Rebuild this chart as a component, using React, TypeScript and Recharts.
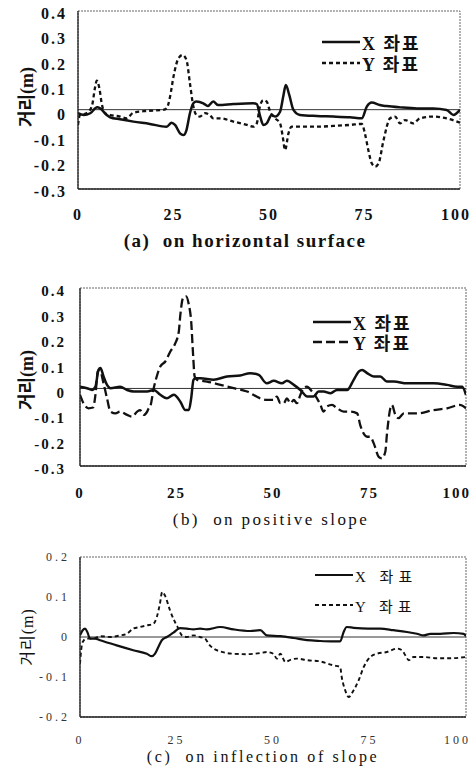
import React from 'react';
import { LineChart, Line, XAxis, YAxis, ReferenceLine, ReferenceArea, Legend } from 'recharts';

// ---------- labels ----------
const xTicks = [0, 25, 50, 75, 100];
const yTicksAB = [-0.3, -0.2, -0.1, 0, 0.1, 0.2, 0.3, 0.4];
const yTicksC = [-0.2, -0.1, 0, 0.1, 0.2];
const seriesNames = ['X 좌표', 'Y 좌표'];
const titles = ['(a)  on horizontal surface', '(b)  on positive slope', '(c)  on inflection of slope'];
const yLabel = '거리(m)';

// ---------- (a) horizontal surface ----------
const horizXPos = [0, 1.5, 3.2, 5, 5.8, 7.5, 8.4, 11, 14.5, 18.8, 23.2, 24.5, 25.4, 26.7, 27.6, 28.4, 29.3, 30.2, 31, 32.8, 34, 35.4, 36.7, 40.7, 45.9, 46.8, 47.6, 48.5, 49.4, 50.7, 51.6, 52.9, 53.8, 54.4, 55.3, 56.4, 58.1, 62.5, 66.8, 71.2, 74.3, 75.6, 76.9, 79, 80.8, 84.3, 88.7, 93, 96.5, 98.3, 99.1, 100];
const horizXVal = [-0.002, -0.009, -0.002, 0.021, 0.017, -0.009, -0.018, -0.026, -0.035, -0.044, -0.055, -0.039, -0.048, -0.081, -0.088, -0.068, -0.002, 0.037, 0.044, 0.037, 0.026, 0.044, 0.03, 0.034, 0.037, 0.034, -0.009, -0.048, -0.042, -0.009, -0.015, 0.004, 0.07, 0.109, 0.07, 0.011, -0.009, -0.013, -0.015, -0.018, -0.022, 0.024, 0.04, 0.03, 0.026, 0.021, 0.017, 0.017, 0.011, -0.009, -0.002, 0.011];
const horizYPos = [0, 0.5, 2.2, 3.6, 4.5, 4.9, 5.6, 6.2, 7.1, 8.4, 11, 12.7, 14.5, 18, 22.3, 23.2, 24.1, 25, 26.3, 27.4, 28.4, 29.3, 30.2, 31, 31.9, 33.2, 34.5, 35.4, 37.2, 40.7, 44.2, 45.9, 46.8, 47.6, 48.5, 49.4, 50.3, 51.6, 52.9, 53.6, 54.2, 55.1, 55.9, 58.1, 62.5, 66.8, 71.2, 74.3, 75.1, 76, 76.9, 77.8, 78.7, 80, 81.7, 83, 84.3, 85.6, 87.8, 89.5, 93, 96.5, 100];
const horizYVal = [-0.048, -0.009, -0.002, 0.024, 0.102, 0.126, 0.096, 0.037, -0.002, -0.009, -0.015, -0.022, 0.0, 0.007, 0.011, 0.017, 0.063, 0.142, 0.214, 0.227, 0.207, 0.116, 0.024, -0.009, -0.015, -0.002, -0.009, -0.022, -0.022, -0.035, -0.048, -0.055, -0.042, 0.024, 0.05, 0.044, 0.004, -0.022, -0.042, -0.094, -0.147, -0.081, -0.055, -0.055, -0.055, -0.052, -0.048, -0.044, -0.081, -0.147, -0.199, -0.212, -0.199, -0.107, -0.022, -0.015, -0.042, -0.029, -0.042, -0.022, -0.015, -0.022, -0.039];

// ---------- (b) positive slope ----------
const slopeXPos = [0, 1.8, 3.1, 4, 4.8, 5.3, 6.1, 7, 7.9, 10.4, 12.2, 13.9, 17.4, 19.1, 20.8, 22.5, 24.3, 26, 27.3, 28.2, 28.8, 29.4, 29.9, 31.2, 34.6, 38.1, 41.5, 44.1, 46.3, 48.4, 50.2, 52.3, 53.6, 55.4, 57.1, 58.9, 60.5, 61.8, 63.1, 64.9, 66.6, 69.2, 70.9, 72.2, 73.1, 74.4, 76.1, 77.8, 79.5, 81.3, 84.7, 88.2, 91.6, 95.1, 97.7, 99, 100];
const slopeXVal = [0.012, 0.006, -0.001, 0.012, 0.078, 0.085, 0.052, 0.019, 0.006, 0.012, -0.001, -0.007, -0.007, -0.001, -0.02, -0.034, -0.02, -0.047, -0.08, -0.08, -0.034, 0.039, 0.045, 0.045, 0.039, 0.052, 0.056, 0.065, 0.058, 0.025, 0.035, 0.025, 0.035, 0.019, -0.001, -0.027, -0.027, -0.007, -0.007, -0.014, -0.001, -0.001, 0.039, 0.071, 0.078, 0.065, 0.052, 0.052, 0.032, 0.032, 0.025, 0.025, 0.025, 0.019, 0.012, 0.012, -0.02];
const slopeYPos = [0, 0.9, 2.2, 3.4, 4, 4.6, 5.1, 6.1, 7, 7.9, 9.2, 10.4, 12.2, 13.5, 14.8, 15.6, 16.5, 17.4, 17.8, 18.2, 19.1, 20, 20.8, 22.1, 23.4, 24.7, 25.6, 26, 26.7, 27.5, 28.2, 28.8, 29.3, 29.7, 30.3, 32.9, 36.4, 39.8, 43.3, 46.7, 48.4, 50.2, 51, 51.9, 52.8, 53.6, 54.5, 55.4, 56.2, 57.1, 57.9, 58.8, 60.1, 61.4, 62.3, 63.1, 64, 65.3, 66.6, 68.3, 70, 71.8, 72.6, 74.4, 75.2, 76.1, 77.4, 78.2, 79.1, 79.5, 80.4, 80.8, 81.7, 82.5, 83.9, 87.3, 91.6, 95.1, 98.4, 100];
const slopeYVal = [-0.02, -0.053, -0.073, -0.07, -0.02, 0.071, 0.078, 0.025, -0.034, -0.086, -0.093, -0.086, -0.099, -0.106, -0.086, -0.08, -0.099, -0.086, -0.073, -0.066, 0.006, 0.058, 0.091, 0.111, 0.15, 0.183, 0.229, 0.295, 0.361, 0.367, 0.334, 0.269, 0.137, 0.052, 0.039, 0.032, 0.019, 0.006, -0.007, -0.034, -0.04, -0.04, -0.027, -0.053, -0.053, -0.034, -0.053, -0.04, -0.053, -0.02, 0.006, 0.012, -0.007, -0.034, -0.06, -0.086, -0.066, -0.06, -0.073, -0.086, -0.086, -0.093, -0.139, -0.185, -0.185, -0.211, -0.264, -0.27, -0.244, -0.178, -0.073, -0.06, -0.099, -0.112, -0.093, -0.093, -0.08, -0.073, -0.06, -0.073];

// ---------- (c) inflection of slope ----------
const inflXPos = [0, 0.7, 1.3, 1.9, 2.6, 3.9, 5.2, 9.5, 13.8, 17.3, 18.6, 19.4, 20.3, 21.2, 22.5, 24.2, 25.9, 27.7, 29.4, 31.1, 32.8, 36.3, 39.8, 44.1, 46.7, 48.4, 51.9, 55.3, 58.8, 62.2, 65.7, 67.4, 68.3, 69.1, 70.9, 74.6, 77.8, 81.2, 84.7, 87.3, 89, 90.8, 93.3, 96.8, 99.4, 100];
const inflXVal = [0.004, 0.017, 0.021, 0.0125, -0.004, -0.004, -0.008, -0.021, -0.033, -0.042, -0.048, -0.042, -0.025, -0.008, 0, 0.011, 0.022, 0.021, 0.019, 0.021, 0.019, 0.025, 0.019, 0.015, 0.017, 0.004, 0.002, -0.0025, -0.008, -0.01, -0.011, -0.011, 0.0125, 0.025, 0.023, 0.021, 0.021, 0.017, 0.0125, 0.008, 0.004, 0.008, 0.008, 0.01, 0.008, 0.002];
const inflYPos = [0, 0.3, 0.7, 1.7, 3.5, 5.2, 7.8, 10.4, 12.1, 13.8, 15.6, 17.3, 19, 19.9, 20.7, 21.3, 22, 23.3, 24.6, 25.5, 26.4, 27.7, 29.4, 31.1, 32.4, 33.3, 34.6, 36.3, 39.8, 43.2, 46.7, 48.4, 50.1, 51, 51.9, 53.2, 54.5, 56.2, 58.8, 62.2, 65.7, 67.4, 67.8, 68.7, 69.6, 70.9, 72.2, 73.5, 75.2, 76.9, 79.5, 82.1, 83.4, 84.3, 85.2, 86.4, 89, 92.5, 96, 100];
const inflYVal = [-0.067, -0.033, -0.0125, -0.004, -0.004, 0.002, 0, 0.004, 0.008, 0.021, 0.025, 0.029, 0.033, 0.05, 0.083, 0.1125, 0.104, 0.067, 0.0375, 0.021, 0.004, 0, 0.004, 0, -0.004, -0.017, -0.029, -0.036, -0.042, -0.043, -0.04, -0.0375, -0.042, -0.054, -0.042, -0.0625, -0.057, -0.054, -0.058, -0.061, -0.071, -0.075, -0.1, -0.133, -0.15, -0.133, -0.108, -0.075, -0.05, -0.042, -0.0375, -0.029, -0.033, -0.046, -0.058, -0.05, -0.05, -0.053, -0.053, -0.05];

const toPts = (pos: number[], val: number[]) => pos.map((x, i) => ({ x, y: val[i] }));

const SERIF = '"Liberation Serif", "Times New Roman", "Noto Sans CJK KR", serif';
const PAGE_W = 474;

type PanelProps = {
  top: number;
  height: number;
  margin: { top: number; right: number; bottom: number; left: number };
  xAxisHeight: number;
  yDomain: [number, number];
  yTicks: number[];
  xData: { x: number; y: number }[];
  yData: { x: number; y: number }[];
  refY: number;
  tick: any;
  xTickMargin: number;
  yTickMargin: number;
  yTickDy: number;
  xW: number;
  yW: number;
  yDash: string;
  legendLeft: number;
  legendTop: number;
  legendRowH: number;
  legendGap: number;
  legendFont: any;
};

function makeXTick(style: any) {
  return function XTick(props: any) {
    const { x, y, payload } = props;
    const label = String(payload.value);
    const fs = style.fontSize;
    const ls = style.letterSpacing || 0;
    const w = label.length * (0.5 * fs + ls);
    let tx = x;
    let anchor: 'middle' | 'end' = 'middle';
    if (x + w / 2 > PAGE_W - 2) {
      tx = PAGE_W - 3;
      anchor = 'end';
    }
    return (
      <text x={tx} y={y} dy="0.71em" textAnchor={anchor} {...style}>
        {label}
      </text>
    );
  };
}

function LegendBox({ p }: { p: PanelProps }) {
  return (
    <div style={{ display: 'flex', flexDirection: 'column', gap: p.legendGap }}>
      {seriesNames.map((n, i) => (
        <div key={n} style={{ display: 'flex', alignItems: 'center', height: p.legendRowH }}>
          <svg width={38} height={12} style={{ display: 'block' }}>
            <line
              x1={0}
              x2={38}
              y1={6}
              y2={6}
              stroke="#111"
              strokeWidth={i ? p.yW : p.xW}
              strokeDasharray={i ? p.yDash : undefined}
            />
          </svg>
          <span style={{ ...p.legendFont, whiteSpace: 'pre', marginLeft: 2, color: '#111' }}>{n}</span>
        </div>
      ))}
    </div>
  );
}

function Panel(p: PanelProps) {
  const XTick = makeXTick(p.tick);
  return (
    <div style={{ position: 'absolute', left: 0, top: p.top }}>
      <LineChart width={PAGE_W} height={p.height} margin={p.margin}>
        <XAxis
          type="number"
          dataKey="x"
          domain={[0, 100]}
          ticks={xTicks}
          allowDataOverflow
          height={p.xAxisHeight}
          tickLine={false}
          tickSize={0}
          tickMargin={p.xTickMargin}
          axisLine={{ stroke: '#222', strokeWidth: 1.3 }}
          tick={<XTick />}
          interval={0}
        />
        <YAxis
          type="number"
          dataKey="y"
          domain={p.yDomain}
          ticks={p.yTicks}
          allowDataOverflow
          width={50}
          tickLine={false}
          tickSize={0}
          tickMargin={p.yTickMargin}
          axisLine={{ stroke: '#222', strokeWidth: 1.3 }}
          tick={{ ...p.tick, dy: p.yTickDy }}
          interval={0}
        />
        <ReferenceArea
          x1={0}
          x2={100}
          y1={p.yDomain[0]}
          y2={p.yDomain[1]}
          fill="none"
          stroke="#666"
          strokeWidth={1}
          strokeDasharray="2 1"
        />
        <ReferenceLine y={p.refY} stroke="#333" strokeWidth={1} />
        <Line
          data={p.xData}
          dataKey="y"
          name={seriesNames[0]}
          type="monotone"
          stroke="#111"
          strokeWidth={p.xW}
          dot={false}
          isAnimationActive={false}
        />
        <Line
          data={p.yData}
          dataKey="y"
          name={seriesNames[1]}
          type="monotone"
          stroke="#111"
          strokeWidth={p.yW}
          strokeDasharray={p.yDash}
          dot={false}
          isAnimationActive={false}
        />
        <Legend
          layout="vertical"
          align="center"
          verticalAlign="middle"
          wrapperStyle={{ left: p.legendLeft, top: p.legendTop, width: 'auto', height: 'auto' }}
          content={() => <LegendBox p={p} />}
        />
      </LineChart>
    </div>
  );
}

function Title({ text, cx, cy, style }: { text: string; cx: number; cy: number; style: any }) {
  return (
    <div
      style={{
        position: 'absolute',
        left: cx,
        top: cy - 12,
        height: 24,
        lineHeight: '24px',
        transform: 'translateX(-50%)',
        whiteSpace: 'pre',
        color: '#111',
        fontFamily: SERIF,
        ...style,
      }}
    >
      {text}
    </div>
  );
}

function YLabel({ cx, cy, style }: { cx: number; cy: number; style: any }) {
  return (
    <div
      style={{
        position: 'absolute',
        left: cx,
        top: cy,
        transform: 'translate(-50%, -50%) rotate(-90deg)',
        whiteSpace: 'nowrap',
        color: '#111',
        fontFamily: SERIF,
        lineHeight: 1,
        ...style,
      }}
    >
      {yLabel}
    </div>
  );
}

const tickA = { fontFamily: SERIF, fontSize: 16, fontWeight: 700, fill: '#111', letterSpacing: 2 };
const tickB = { fontFamily: SERIF, fontSize: 15, fontWeight: 700, fill: '#111', letterSpacing: 2 };
const tickC = { fontFamily: SERIF, fontSize: 12, fontWeight: 400, fill: '#333', letterSpacing: 3 };

export default function App() {
  const pa: PanelProps = {
    top: 0,
    height: 232,
    margin: { top: 11, right: 14, bottom: 0, left: 28 },
    xAxisHeight: 43,
    yDomain: [-0.3, 0.4],
    yTicks: yTicksAB,
    xData: toPts(horizXPos, horizXVal),
    yData: toPts(horizYPos, horizYVal),
    refY: 0.012,
    tick: tickA,
    xTickMargin: 20,
    yTickMargin: 11,
    yTickDy: 2,
    xW: 2.5,
    yW: 2.3,
    yDash: '4 3',
    legendLeft: 322,
    legendTop: 31,
    legendRowH: 21,
    legendGap: 0,
    legendFont: { fontFamily: SERIF, fontSize: 18, fontWeight: 700, letterSpacing: 2 },
  };
  const pb: PanelProps = {
    top: 260,
    height: 245,
    margin: { top: 28, right: 8, bottom: 0, left: 30 },
    xAxisHeight: 39,
    yDomain: [-0.3, 0.4],
    yTicks: yTicksAB,
    xData: toPts(slopeXPos, slopeXVal),
    yData: toPts(slopeYPos, slopeYVal),
    refY: 0.005,
    tick: tickB,
    xTickMargin: 21,
    yTickMargin: 14,
    yTickDy: 3,
    xW: 2.5,
    yW: 2.3,
    yDash: '9 4',
    legendLeft: 313,
    legendTop: 52,
    legendRowH: 20,
    legendGap: 0,
    legendFont: { fontFamily: SERIF, fontSize: 18, fontWeight: 700, letterSpacing: 2 },
  };
  const pc: PanelProps = {
    top: 530,
    height: 227,
    margin: { top: 27, right: 8, bottom: 0, left: 30 },
    xAxisHeight: 40,
    yDomain: [-0.2, 0.2],
    yTicks: yTicksC,
    xData: toPts(inflXPos, inflXVal),
    yData: toPts(inflYPos, inflYVal),
    refY: 0,
    tick: tickC,
    xTickMargin: 18,
    yTickMargin: 10,
    yTickDy: 0,
    xW: 2.2,
    yW: 1.9,
    yDash: '4 3',
    legendLeft: 315,
    legendTop: 35,
    legendRowH: 20,
    legendGap: 10,
    legendFont: { fontFamily: SERIF, fontSize: 15, fontWeight: 400, letterSpacing: 5 },
  };

  return (
    <div
      style={{
        position: 'absolute',
        left: 0,
        top: 0,
        width: PAGE_W,
        height: 768,
        background: '#fff',
        overflow: 'hidden',
        fontFamily: SERIF,
      }}
    >
      <Panel {...pa} />
      <Panel {...pb} />
      <Panel {...pc} />
      <YLabel cx={27} cy={97} style={{ fontSize: 18, fontWeight: 700 }} />
      <YLabel cx={27} cy={380} style={{ fontSize: 18, fontWeight: 700 }} />
      <YLabel cx={28} cy={637} style={{ fontSize: 16, fontWeight: 400, letterSpacing: 1 }} />
      <Title text={titles[0]} cx={245} cy={241} style={{ fontSize: 19, fontWeight: 700, letterSpacing: 1.5 }} />
      <Title text={titles[1]} cx={271} cy={520} style={{ fontSize: 17, fontWeight: 400, letterSpacing: 2.4 }} />
      <Title text={titles[2]} cx={263} cy={757} style={{ fontSize: 16, fontWeight: 400, letterSpacing: 2.6 }} />
    </div>
  );
}
